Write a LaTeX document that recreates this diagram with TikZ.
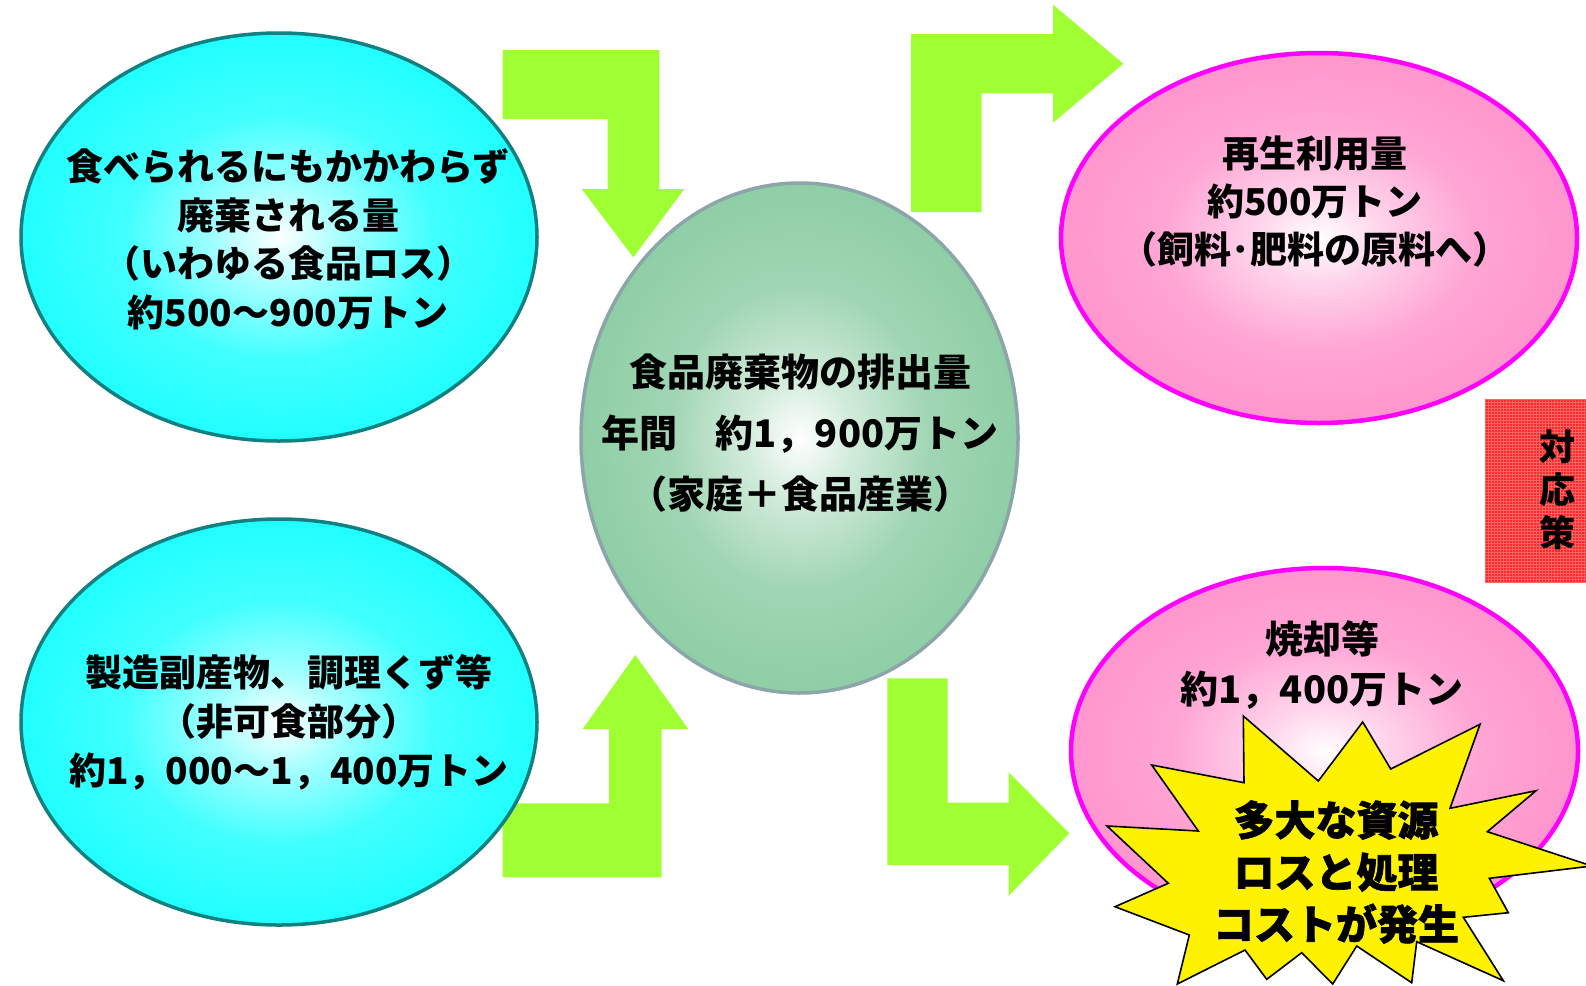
\documentclass[tikz,border=0pt]{standalone}
\usepackage{fontspec}
\setmainfont{Noto Sans CJK JP}
\newfontfamily\heavyfont{Noto Sans CJK JP}[BoldFeatures={FakeBold=1.6}]
\usetikzlibrary{shapes.geometric}
\definecolor{cyanC}{RGB}{32,255,255}
\definecolor{tealC}{RGB}{16,128,128}
\definecolor{pinkC}{RGB}{255,150,205}
\definecolor{magC}{RGB}{255,0,255}
\definecolor{mintC}{RGB}{143,206,166}
\definecolor{mintB}{RGB}{140,165,168}
\definecolor{arrowC}{RGB}{160,255,51}
\definecolor{redC}{RGB}{255,40,40}
\definecolor{redL}{RGB}{255,140,140}
\pgfdeclareradialshading{cyanball}{\pgfpoint{0bp}{0bp}}{color(0bp)=(white); color(6bp)=(cyanC!40!white); color(15bp)=(cyanC!85!white); color(25bp)=(cyanC); color(50bp)=(cyanC)}
\pgfdeclareradialshading{mintball}{\pgfpoint{0bp}{0bp}}{color(0bp)=(white); color(6bp)=(mintC!40!white); color(15bp)=(mintC!85!white); color(25bp)=(mintC); color(50bp)=(mintC)}
\pgfdeclareradialshading{pinkball}{\pgfpoint{0bp}{0bp}}{color(0bp)=(white); color(6bp)=(pinkC!40!white); color(15bp)=(pinkC!85!white); color(25bp)=(pinkC); color(50bp)=(pinkC)}
\tikzset{
  ell/.style={ellipse, inner sep=0pt, outer sep=0pt, shade},
  cyanell/.style={ell, shading=cyanball, draw=tealC, line width=3.5pt},
  mintell/.style={ell, shading=mintball, draw=mintB, line width=3.5pt},
  pinkell/.style={ell, shading=pinkball, draw=magC, line width=4.5pt},
  txt/.style={align=center, inner sep=0pt, font=\fontsize{37}{48.5}\selectfont\bfseries},
  blockarrow/.style={fill=arrowC, draw=none},
  burst/.style={fill=yellow, draw=black, line width=1.6pt, line join=miter},
}
\begin{document}
\begin{tikzpicture}[x=1pt,y=-1pt]
\useasboundingbox (0,0) rectangle (1586,985);
\clip (0,0) rectangle (1586,985);
\fill[white] (0,0) rectangle (1586,985);

% block arrows
\fill[blockarrow] (502.7,50) -- (659.3,50) -- (659.3,189) -- (684.3,189) -- (633.3,257.3) -- (581.7,189) -- (607.7,189) -- (607.7,119) -- (502.7,119) -- cycle;
\fill[blockarrow] (911,212) -- (911,34) -- (1053,34) -- (1053,4.7) -- (1123.3,63.7) -- (1053,122.7) -- (1053,93.3) -- (981.7,93.3) -- (981.7,212) -- cycle;
\fill[blockarrow] (502.7,877.3) -- (661.7,877.3) -- (661.7,729) -- (688.3,729) -- (635.3,655) -- (582.7,729) -- (609,729) -- (609,803.3) -- (502.7,803.3) -- cycle;
\fill[blockarrow] (887.3,678.3) -- (947.7,678.3) -- (947.7,802.7) -- (1008.7,802.7) -- (1008.7,772.3) -- (1069.3,833.3) -- (1008.7,895.7) -- (1008.7,865) -- (887.3,865) -- cycle;

% ellipses
\node[cyanell, minimum width=516pt, minimum height=408pt] (tl) at (279,237) {};
\node[cyanell, minimum width=516pt, minimum height=406pt] (bl) at (279,722) {};
\node[mintell, minimum width=437pt, minimum height=510pt] (mid) at (799.5,438) {};
\node[pinkell, minimum width=516pt, minimum height=370pt] (tr) at (1319,238) {};
\node[pinkell, minimum width=507pt, minimum height=366pt] (br) at (1324.5,751) {};

% texts
\node[txt] (tlT) at (288,239.5) {食べられるにもかかわらず\\廃棄される量\\（いわゆる食品ロス）\\約500～900万トン};
\node[txt, font=\fontsize{37}{49}\selectfont\bfseries] (blT) at (289,722) {製造副産物、調理くず等\\（非可食部分）\\約1，000～1，400万トン};
\node[txt, font=\fontsize{38}{61}\selectfont\bfseries] (midT) at (800,433) {食品廃棄物の排出量\\年間　約1，900万トン\\（家庭＋食品産業）};
\node[txt, font=\fontsize{37}{48}\selectfont\bfseries] (trT) at (1315,202) {再生利用量\\約500万トン\\（飼料･肥料の原料へ）};
\node[txt, font=\fontsize{38}{50}\selectfont\bfseries] (brT) at (1322,665) {焼却等\\約1，400万トン};

% red box
\fill[redC] (1485,399) rectangle (1586,583);
\draw[redL, line width=0.7pt, opacity=0.6, step=3pt] (1485,399) grid (1586,583);
\node[align=center, inner sep=0pt, font=\fontsize{36}{43}\selectfont\bfseries] (taio) at (1557,490) {対\\応\\策};

% starburst
\draw[burst] (1243.3,716) -- (1244,782.7) -- (1151.7,765) -- (1198.3,831) -- (1107,826) -- (1168.3,883.3) -- (1115,906.7) -- (1189.3,935) -- (1177.3,984) -- (1245,950) -- (1266.7,979.3) -- (1301.7,952.7) -- (1332.7,984) -- (1356.7,946) -- (1411.7,982.7) -- (1416.7,941.7) -- (1503.3,980.7) -- (1463.3,917.3) -- (1508.3,912.7) -- (1489.3,878.3) -- (1592,866) -- (1487.3,831.7) -- (1536,790.7) -- (1450,808.3) -- (1480,724.3) -- (1390.7,769) -- (1362.7,722) -- (1318.3,781) -- cycle;
\node[align=center, inner sep=0pt, font=\fontsize{41}{52}\selectfont\heavyfont\bfseries] (burstT) at (1336,872) {多大な資源\\ロスと処理\\コストが発生};
\end{tikzpicture}
\end{document}
